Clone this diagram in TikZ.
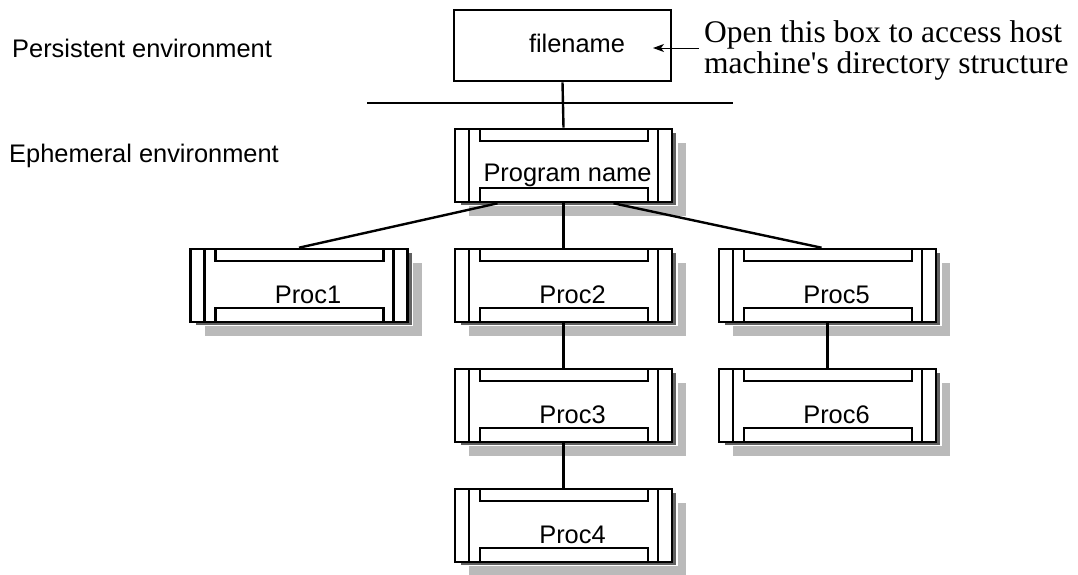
\documentclass[tikz,border=0pt]{standalone}
\usepackage{fontspec}
\setmainfont{Liberation Serif}
\setsansfont{Liberation Sans}
\newfontfamily\notefont{Liberation Serif}[Ligatures=TeXOff]
\usetikzlibrary{calc,shadows,arrows.meta}

\tikzset{
  sanslabel/.style={font=\sffamily\fontsize{25.4}{30}\selectfont, inner sep=0pt},
  % framed module box: side bars, top and bottom strips, double grey shadow
  modbox/.style={
    draw, line width=2.6pt, fill=white, inner sep=0pt,
    minimum width=217pt, minimum height=73pt,
    general shadow={fill=black!27, shadow xshift=14pt, shadow yshift=-14pt},
    general shadow={fill=black!62, draw=white, line width=1.2pt, shadow xshift=5pt, shadow yshift=-3.5pt},
    path picture={
      \draw[line width=2.6pt]
        ($(path picture bounding box.north west)+(14,0)$) -- ($(path picture bounding box.south west)+(14,0)$)
        ($(path picture bounding box.north east)+(-14,0)$) -- ($(path picture bounding box.south east)+(-14,0)$)
        ($(path picture bounding box.north west)+(25,-5)$) rectangle ($(path picture bounding box.north east)+(-24,12)$)
        ($(path picture bounding box.south west)+(25,5)$) rectangle ($(path picture bounding box.south east)+(-24,-14)$);
    }
  },
  modtext/.style={label={[sanslabel, xshift=9pt, yshift=-9.4pt]center:#1}},
  link/.style={line width=2.4pt},
}

\begin{document}
\begin{tikzpicture}[x=1pt, y=-1pt]
\useasboundingbox (0,0) rectangle (1078,574);

% persistent part
\node[draw, line width=2.6pt, minimum width=217pt, minimum height=71pt, inner sep=0pt] (fn) at (562.5,45.5) {};
\node[sanslabel, anchor=base] (fntext) at (577,52) {filename};

\node[sanslabel, anchor=base west] (pers) at (12,57) {Persistent environment};
\node[sanslabel, anchor=base west] (eph) at (9,162) {Ephemeral environment};

\node[anchor=west, inner sep=0pt, align=left, font=\notefont\fontsize{31.5}{31}\selectfont] (note) at (704,50)
  {Open this box to access host\\machine's directory structure};
\coordinate (tail) at (699,48);
\coordinate (tip) at (653,48);
\draw[line width=1pt, -{Stealth[length=11pt, width=8pt, inset=3pt]}] (tail) -- (tip);

% divider between the two environments
\coordinate (divl) at (367,103);
\coordinate (divr) at (733,103);
\draw[link] (divl) -- (divr);

% ephemeral tree
\node[modbox, label={[sanslabel, xshift=4pt, yshift=-10pt]center:Program name}] (prog) at (563.5,165.5) {};
\node[modbox, modtext=Proc1] (p1) at (299,285.5) {};
\node[modbox, modtext=Proc2] (p2) at (563.5,285.5) {};
\node[modbox, modtext=Proc5] (p5) at (827.5,285.5) {};
\node[modbox, modtext=Proc3] (p3) at (563.5,405.5) {};
\node[modbox, modtext=Proc6] (p6) at (827.5,405.5) {};
\node[modbox, modtext=Proc4] (p4) at (563.5,525.5) {};

\draw[link] (fn.south) -- (prog.north);
\draw[link] ($(prog.south)+(-66,0)$) -- (p1.north);
\draw[link] ($(prog.south)+(50,0)$) -- ($(p5.north)+(-6,0)$);
\draw[link] (prog.south) -- (p2.north);
\draw[link] (p2.south) -- (p3.north);
\draw[link] (p3.south) -- (p4.north);
\draw[link] (p5.south) -- (p6.north);
\end{tikzpicture}
\end{document}
